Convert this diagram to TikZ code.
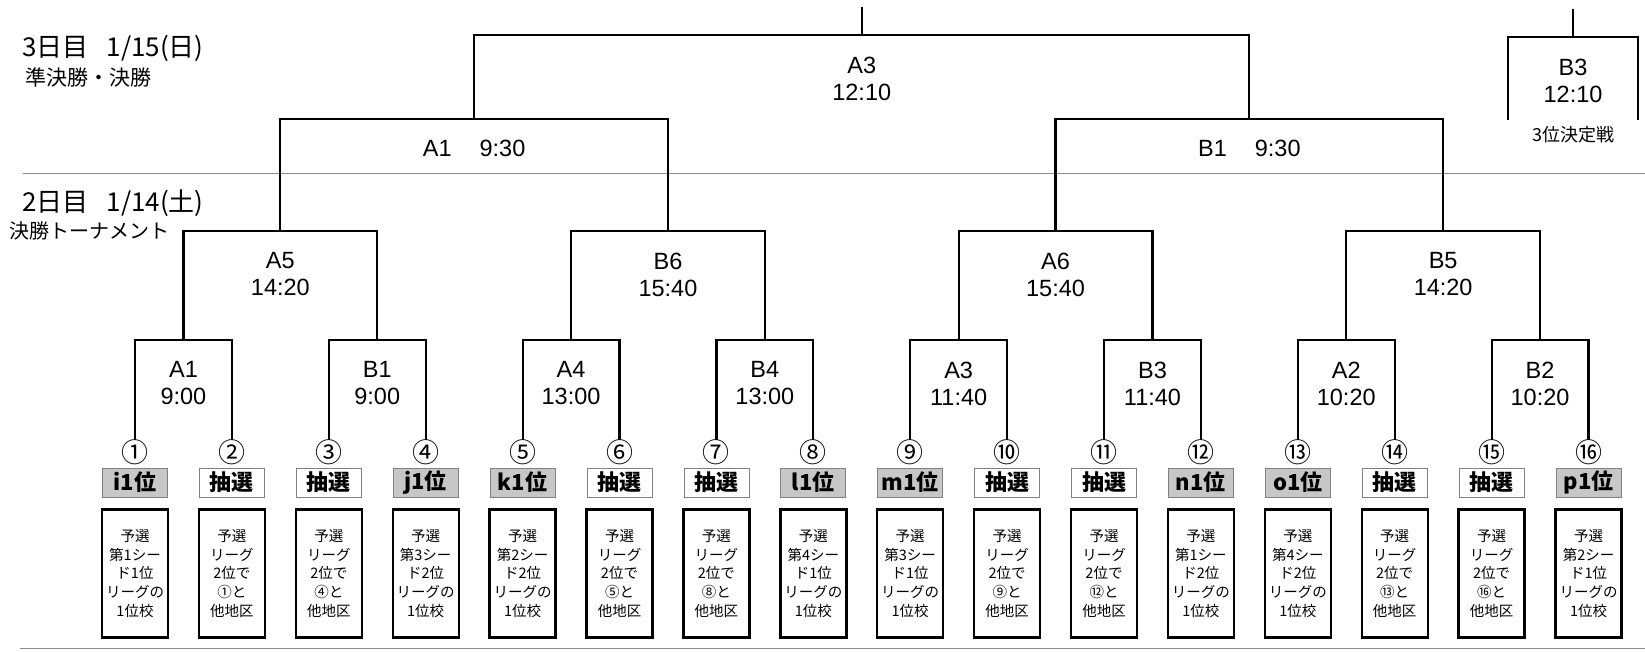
\documentclass[tikz,border=0pt]{standalone}
\usepackage{fontspec}
\setmainfont{Liberation Sans}
\newfontfamily\jp{Noto Sans CJK JP}
\usetikzlibrary{positioning}

\begin{document}
\begin{tikzpicture}[x=1pt, y=-1pt,
  br/.style={draw, line width=2.2pt},
  hrule/.style={draw=black!45, line width=1pt},
  num/.style={inner sep=0pt, font=\jp\fontsize{27}{27}\selectfont},
  lbl/.style={draw=black!50, line width=0.8pt, minimum width=65pt, minimum height=29pt,
    inner sep=0pt, font=\jp\bfseries\fontsize{22}{22}\selectfont},
  lgray/.style={fill=black!22},
  lwhite/.style={fill=white},
  cbox/.style={draw, line width=2.4pt, minimum width=66pt, minimum height=128pt,
    inner sep=0pt, align=center, font=\jp\fontsize{14.5}{18.7}\selectfont},
  mt/.style={align=center, font=\fontsize{23.5}{27}\selectfont},
  hd/.style={anchor=west, inner sep=0pt, font=\jp\fontsize{26}{26}\selectfont},
  hdsub/.style={anchor=west, inner sep=0pt, font=\jp\fontsize{20}{20}\selectfont}]
\useasboundingbox (0,0) rectangle (1645,652);
% day headers and rules
\node[hd] (d3) at (22,48) {3日目\hspace{18pt}1/15(日)};
\node[hdsub, font=\jp\fontsize{21}{21}\selectfont] (d3s) at (25,77) {準決勝・決勝};
\node[hd] (d2) at (22,203) {2日目\hspace{18pt}1/14(土)};
\node[hdsub] (d2s) at (9,231) {決勝トーナメント};
\draw[hrule] (23,174) -- (1645,174);
\draw[hrule] (20,648) -- (1645,648);
% entries
\foreach \i/\c/\lab/\fl/\txt in {
  1/①/i1位/lgray/{予選\\第1シー\\ド1位\\リーグの\\1位校},
  2/②/抽選/lwhite/{予選\\リーグ\\2位で\\①と\\他地区},
  3/③/抽選/lwhite/{予選\\リーグ\\2位で\\④と\\他地区},
  4/④/j1位/lgray/{予選\\第3シー\\ド2位\\リーグの\\1位校},
  5/⑤/k1位/lgray/{予選\\第2シー\\ド2位\\リーグの\\1位校},
  6/⑥/抽選/lwhite/{予選\\リーグ\\2位で\\⑤と\\他地区},
  7/⑦/抽選/lwhite/{予選\\リーグ\\2位で\\⑧と\\他地区},
  8/⑧/l1位/lgray/{予選\\第4シー\\ド1位\\リーグの\\1位校},
  9/⑨/m1位/lgray/{予選\\第3シー\\ド1位\\リーグの\\1位校},
  10/⑩/抽選/lwhite/{予選\\リーグ\\2位で\\⑨と\\他地区},
  11/⑪/抽選/lwhite/{予選\\リーグ\\2位で\\⑫と\\他地区},
  12/⑫/n1位/lgray/{予選\\第1シー\\ド2位\\リーグの\\1位校},
  13/⑬/o1位/lgray/{予選\\第4シー\\ド2位\\リーグの\\1位校},
  14/⑭/抽選/lwhite/{予選\\リーグ\\2位で\\⑬と\\他地区},
  15/⑮/抽選/lwhite/{予選\\リーグ\\2位で\\⑯と\\他地区},
  16/⑯/p1位/lgray/{予選\\第2シー\\ド1位\\リーグの\\1位校}}
{
  \pgfmathsetmacro\cx{135+96.9*(\i-1)}
  \coordinate (f\i) at (\cx,440);
  \node[lbl,\fl] (l\i) at (\cx,482.5) {\lab};
  \node[num, above=3pt of l\i] (n\i) {\c};
  \node[cbox, below=11pt of l\i] (b\i) {\txt};
}
% first round
\foreach \k/\nm/\tm in {1/A1/9:00, 2/B1/9:00, 3/A4/13:00, 4/B4/13:00,
  5/A3/11:40, 6/B3/11:40, 7/A2/10:20, 8/B2/10:20}
{
  \pgfmathtruncatemacro\a{2*\k-1}
  \pgfmathtruncatemacro\b{2*\k}
  \pgfmathsetmacro\px{135+96.9*(2*\k-1.5)}
  \coordinate (p\k) at (\px,340);
  \draw[br] (f\a) |- (p\k) -| (f\b);
  \node[mt] (mp\k) at (\px,383.5) {\nm\\\tm};
}
% second round
\foreach \k/\nm/\tm in {1/A5/14:20, 2/B6/15:40, 3/A6/15:40, 4/B5/14:20}
{
  \pgfmathtruncatemacro\a{2*\k-1}
  \pgfmathtruncatemacro\b{2*\k}
  \pgfmathsetmacro\px{135+96.9*(4*\k-2.5)}
  \coordinate (q\k) at (\px,231);
  \draw[br] (p\a) |- (q\k) -| (p\b);
  \node[mt] (mq\k) at (\px,274.5) {\nm\\\tm};
}
% third round
\foreach \k/\nm in {1/A1, 2/B1}
{
  \pgfmathtruncatemacro\a{2*\k-1}
  \pgfmathtruncatemacro\b{2*\k}
  \pgfmathsetmacro\px{135+96.9*(8*\k-4.5)}
  \coordinate (r\k) at (\px,119);
  \draw[br] (q\a) |- (r\k) -| (q\b);
  \node[mt] (mr\k) at (\px,148) {\nm\hspace{28pt}9:30};
}
% final
\coordinate (s) at (861.75,35);
\coordinate (s0) at (861.75,7);
\draw[br] (r1) |- (s) -| (r2);
\draw[br] (s) -- (s0);
\node[mt] (ms) at (861.75,78.5) {A3\\12:10};
% third place
\coordinate (u) at (1573,37);
\coordinate (u0) at (1573,9);
\coordinate (ul) at (1508,120);
\coordinate (ur) at (1638,120);
\draw[br] (ul) |- (u) -| (ur);
\draw[br] (u) -- (u0);
\node[mt] (mu) at (1573,80.5) {B3\\12:10};
\node[hdsub, anchor=center] (mu3) at (1573,135) {\fontsize{18}{18}\selectfont 3位決定戦};
\end{tikzpicture}
\end{document}
